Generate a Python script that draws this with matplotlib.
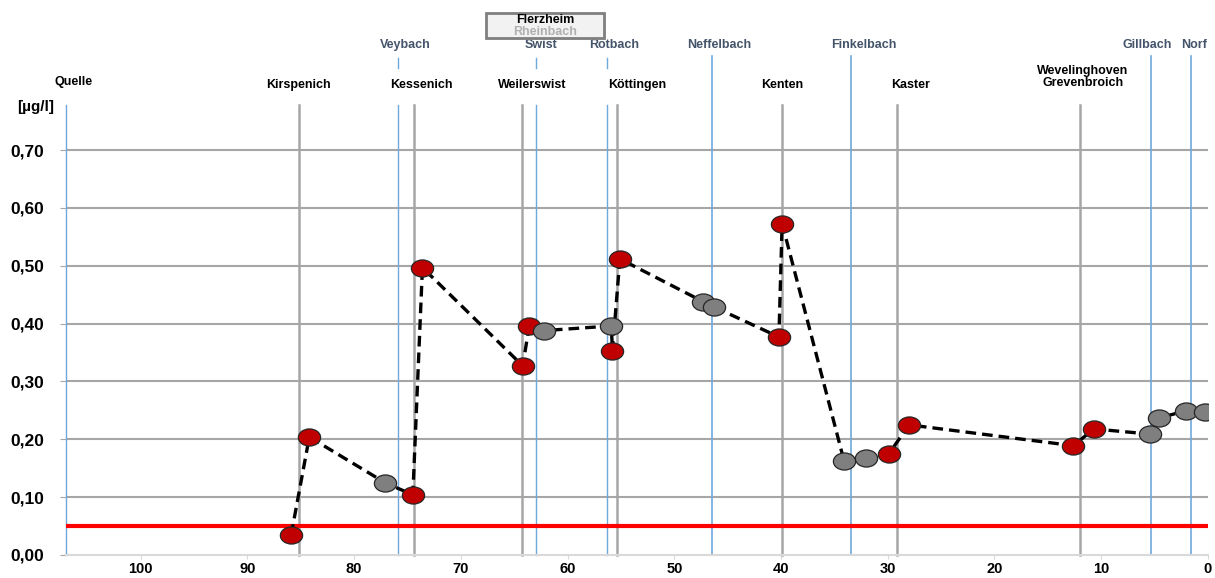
import matplotlib.pyplot as plt
import matplotlib.transforms as mtransforms
from matplotlib.path import Path
from matplotlib.patches import FancyBboxPatch
import numpy as np

plt.rcParams['font.family'] = ['Liberation Sans', 'DejaVu Sans']
plt.rcParams['font.weight'] = 'bold'

# measurement points: river km, concentration [ug/l], point type
km = [85.9, 84.2, 77.1, 74.5, 73.6, 64.2, 63.6, 62.2, 55.9, 55.8, 55.1,
      47.3, 46.3, 40.2, 39.9, 34.1, 32.0, 29.9, 28.0, 12.6, 10.7, 5.4,
      4.6, 2.1, 0.3]
conc = [0.035, 0.204, 0.125, 0.104, 0.497, 0.327, 0.396, 0.388, 0.396,
        0.353, 0.512, 0.438, 0.429, 0.377, 0.573, 0.163, 0.168, 0.175,
        0.225, 0.189, 0.218, 0.209, 0.237, 0.249, 0.247]
kind = ['r', 'r', 'g', 'r', 'r', 'r', 'r', 'g', 'g', 'r', 'r',
        'g', 'g', 'r', 'r', 'g', 'g', 'r', 'r', 'r', 'r', 'g',
        'g', 'g', 'g']

limit = 0.05

# towns along the river
towns = ['Quelle', 'Kirspenich', 'Kessenich', 'Weilerswist', 'Köttingen',
         'Kenten', 'Kaster', 'Wevelinghoven\nGrevenbroich']
town_km = [107.0, 85.2, 74.4, 64.3, 55.4, 39.9, 29.1, 12.0]
town_label_km = [106.3, 85.2, 73.7, 63.3, 53.5, 39.9, 27.9, 11.7]

# tributaries / inflows
tribs = ['Veybach', 'Swist', 'Rotbach', 'Neffelbach', 'Finkelbach',
         'Gillbach', 'Norf']
trib_km = [75.9, 63.0, 56.3, 46.5, 33.4, 5.3, 1.6]
trib_label_km = [75.2, 62.5, 55.6, 45.8, 32.2, 5.7, 1.3]
trib_gap = [True, True, True, False, False, False, False]

fig = plt.figure(figsize=(12.15, 5.78), dpi=100)
ax = fig.add_axes([0.0543, 0.0398, 0.9399, 0.7785])
ax.set_xlim(107, 0)
ax.set_ylim(0, 0.778)

grid_col = '#a6a6a6'
blue = '#6fa8dc'

yt = np.arange(0, 0.71, 0.1)
ax.set_yticks(yt)
ax.set_yticklabels([('%.2f' % v).replace('.', ',') for v in yt])
ax.set_xticks(range(0, 101, 10))
ax.tick_params(axis='y', length=4, color=grid_col, labelsize=12.5, pad=12)
ax.tick_params(axis='x', length=3, color='#d9d9d9', labelsize=10.5, pad=2)

for s in ['top', 'right', 'left']:
    ax.spines[s].set_visible(False)
ax.spines['bottom'].set_color('#d9d9d9')
ax.spines['bottom'].set_linewidth(1.5)

for v in yt[1:]:
    ax.axhline(v, color=grid_col, lw=1.5, zorder=1)

trans = mtransforms.blended_transform_factory(ax.transData, ax.transAxes)

# town lines (first one is the source, drawn blue)
for i, (name, k, lk) in enumerate(zip(towns, town_km, town_label_km)):
    col = blue if i == 0 else grid_col
    lw = 1.0 if i == 0 else 1.8
    ax.plot([k, k], [0, 1], color=col, lw=lw, transform=trans,
            clip_on=False, zorder=2)
    y = 1.052 if i == 0 else 1.044
    if '\n' in name:
        y = 1.062
    ax.text(lk, y, name, transform=trans, ha='center', va='center',
            fontsize=9, fontweight='bold', color='black',
            linespacing=1.0)

# tributary lines
for name, k, lk, gap in zip(tribs, trib_km, trib_label_km, trib_gap):
    lw = 1.0 if gap else 1.2
    if gap:
        ax.plot([k, k], [0, 1], color=blue, lw=lw, transform=trans,
                clip_on=False, zorder=2)
        ax.plot([k, k], [1.082, 1.104], color=blue, lw=lw, transform=trans,
                clip_on=False, zorder=2)
    else:
        ax.plot([k, k], [0, 1.109], color=blue, lw=lw, transform=trans,
                clip_on=False, zorder=2)
    ax.text(lk, 1.133, name, transform=trans, ha='center', va='center',
            fontsize=9, fontweight='bold', color='#44546a')

# limit value
ax.axhline(limit, color='#ff0000', lw=3, zorder=3)

# concentration profile
ax.plot(km, conc, color='black', lw=2.4, ls=(0, (3.2, 1.8)), zorder=4)

circle = Path.unit_circle()
ellipse = Path(circle.vertices * [1.3, 1.0], circle.codes)
colors = {'r': '#c00000', 'g': '#7f7f7f'}
for x, y, c in zip(km, conc, kind):
    ax.plot(x, y, marker=ellipse, ms=16, mfc=colors[c], mec='#262626',
            mew=0.9, ls='none', zorder=5)

fig.text(0.029, 0.815, '[µg/l]', fontsize=11, fontweight='bold',
         ha='center', va='center')

# station label box
box = FancyBboxPatch((0.4, 0.934), 0.097, 0.043, boxstyle='square,pad=0',
                     transform=fig.transFigure, facecolor='#f2f2f2',
                     edgecolor='#7f7f7f', lw=2)
shadow = FancyBboxPatch((0.402, 0.931), 0.097, 0.043, boxstyle='square,pad=0',
                        transform=fig.transFigure, facecolor='#c8c8c8',
                        edgecolor='none', alpha=0.6)
fig.patches.extend([shadow, box])
fig.text(0.4486, 0.966, 'Flerzheim', fontsize=9, fontweight='bold',
         ha='center', va='center', color='black')
fig.text(0.4486, 0.944, 'Rheinbach', fontsize=9, fontweight='bold',
         ha='center', va='center', color='#b0b0b0')

fig.savefig('out.png', dpi=100)
